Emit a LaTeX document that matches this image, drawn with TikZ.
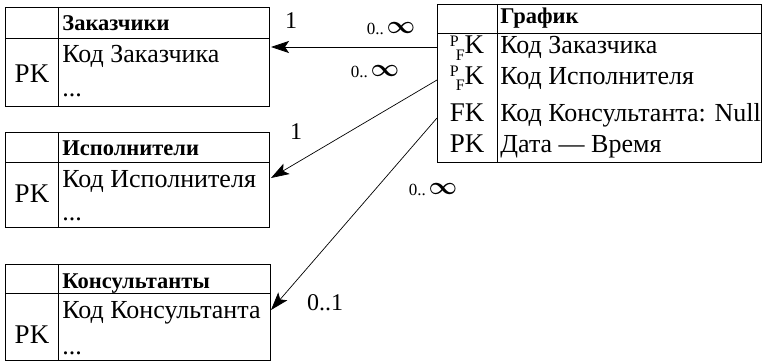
\documentclass[tikz,border=0pt]{standalone}
\usepackage{fontspec}
\setmainfont{Liberation Serif}
\usetikzlibrary{arrows.meta}
\begin{document}
\begin{tikzpicture}[x=1pt,y=-1pt,line width=0.8pt,
  tbl/.style={draw,inner sep=0,anchor=north west},
  hd/.style={anchor=base west,inner sep=0,font=\fontsize{22.5}{22.5}\selectfont\bfseries},
  fld/.style={anchor=base west,inner sep=0,font=\fontsize{26}{26}\selectfont},
  key/.style={anchor=base,inner sep=0,font=\fontsize{27}{27}\selectfont},
  card/.style={inner sep=0,font=\fontsize{24}{24}\selectfont},
  many/.style={inner sep=0,font=\fontsize{17}{17}\selectfont},
  rel/.style={-{Stealth[length=18pt,width=12pt,inset=4pt]},line width=0.7pt}]
\useasboundingbox (0,0) rectangle (762,361);

\newcommand{\pfk}{\rlap{\raisebox{8pt}{\fontsize{16}{16}\selectfont P}}\hspace{6pt}\raisebox{-6pt}{\fontsize{16}{16}\selectfont F}K}
\newcommand{\inftymark}{0..\,\raisebox{1pt}{\fontsize{28}{28}\selectfont\boldmath$\infty$}}

% Заказчики
\node[tbl,minimum width=264pt,minimum height=99pt] (zak) at (5,7) {};
\draw (5,38) -- (269,38);
\draw (58,7) -- (58,106);
\node[hd] (zakh) at (62,31) {Заказчики};
\node[fld] (zakf) at (62,63) {Код Заказчика};
\node[fld] (zakd) at (62,96) {...};
\node[key] (zakk) at (32,82) {PK};
\coordinate (zin) at (271,47);

% Исполнители
\node[tbl,minimum width=264pt,minimum height=95pt] (isp) at (5,132) {};
\draw (5,162) -- (269,162);
\draw (58,132) -- (58,227);
\node[hd] (isph) at (62,155) {Исполнители};
\node[fld] (ispf) at (62,187) {Код Исполнителя};
\node[fld] (ispd) at (62,220) {...};
\node[key] (ispk) at (32,202) {PK};
\coordinate (iin) at (271,178);

% Консультанты
\node[tbl,minimum width=265pt,minimum height=96pt] (kon) at (5,264) {};
\draw (5,293) -- (270,293);
\draw (58,264) -- (58,360);
\node[hd] (konh) at (62,288) {Консультанты};
\node[fld] (konf) at (62,318) {Код Консультанта};
\node[fld] (kond) at (62,354) {...};
\node[key] (konk) at (32,343) {PK};
\coordinate (kin) at (271,310);

% График
\node[tbl,minimum width=324pt,minimum height=158pt] (gra) at (437,4) {};
\draw (437,33) -- (761,33);
\draw (497,4) -- (497,162);
\node[hd] (grah) at (500,24) {График};
\node[fld] (gra1) at (500,54) {Код Заказчика};
\node[fld] (gra2) at (500,84) {Код Исполнителя};
\node[fld] (gra3) at (500,121) {Код Консультанта: Null};
\node[fld] (gra4) at (500,152) {Дата — Время};
\node[key] (grak1) at (467,54) {\pfk};
\node[key] (grak2) at (467,84) {\pfk};
\node[key] (grak3) at (467,121) {FK};
\node[key] (grak4) at (467,152) {PK};
\coordinate (gout1) at (437,47);
\coordinate (gout2) at (437,80);
\coordinate (gout3) at (437,118);

% Связи
\draw[rel] (gout1) -- (zin);
\draw[rel] (gout2) -- (iin);
\draw[rel] (gout3) -- (kin);

% Кардинальности
\node[card] (c1) at (291,21) {1};
\node[many] (m1) at (391,29) {\inftymark};
\node[many] (m2) at (375,72) {\inftymark};
\node[card] (c2) at (296,132) {1};
\node[many] (m3) at (433,190) {\inftymark};
\node[card] (c3) at (325,303) {0..1};
\end{tikzpicture}
\end{document}
